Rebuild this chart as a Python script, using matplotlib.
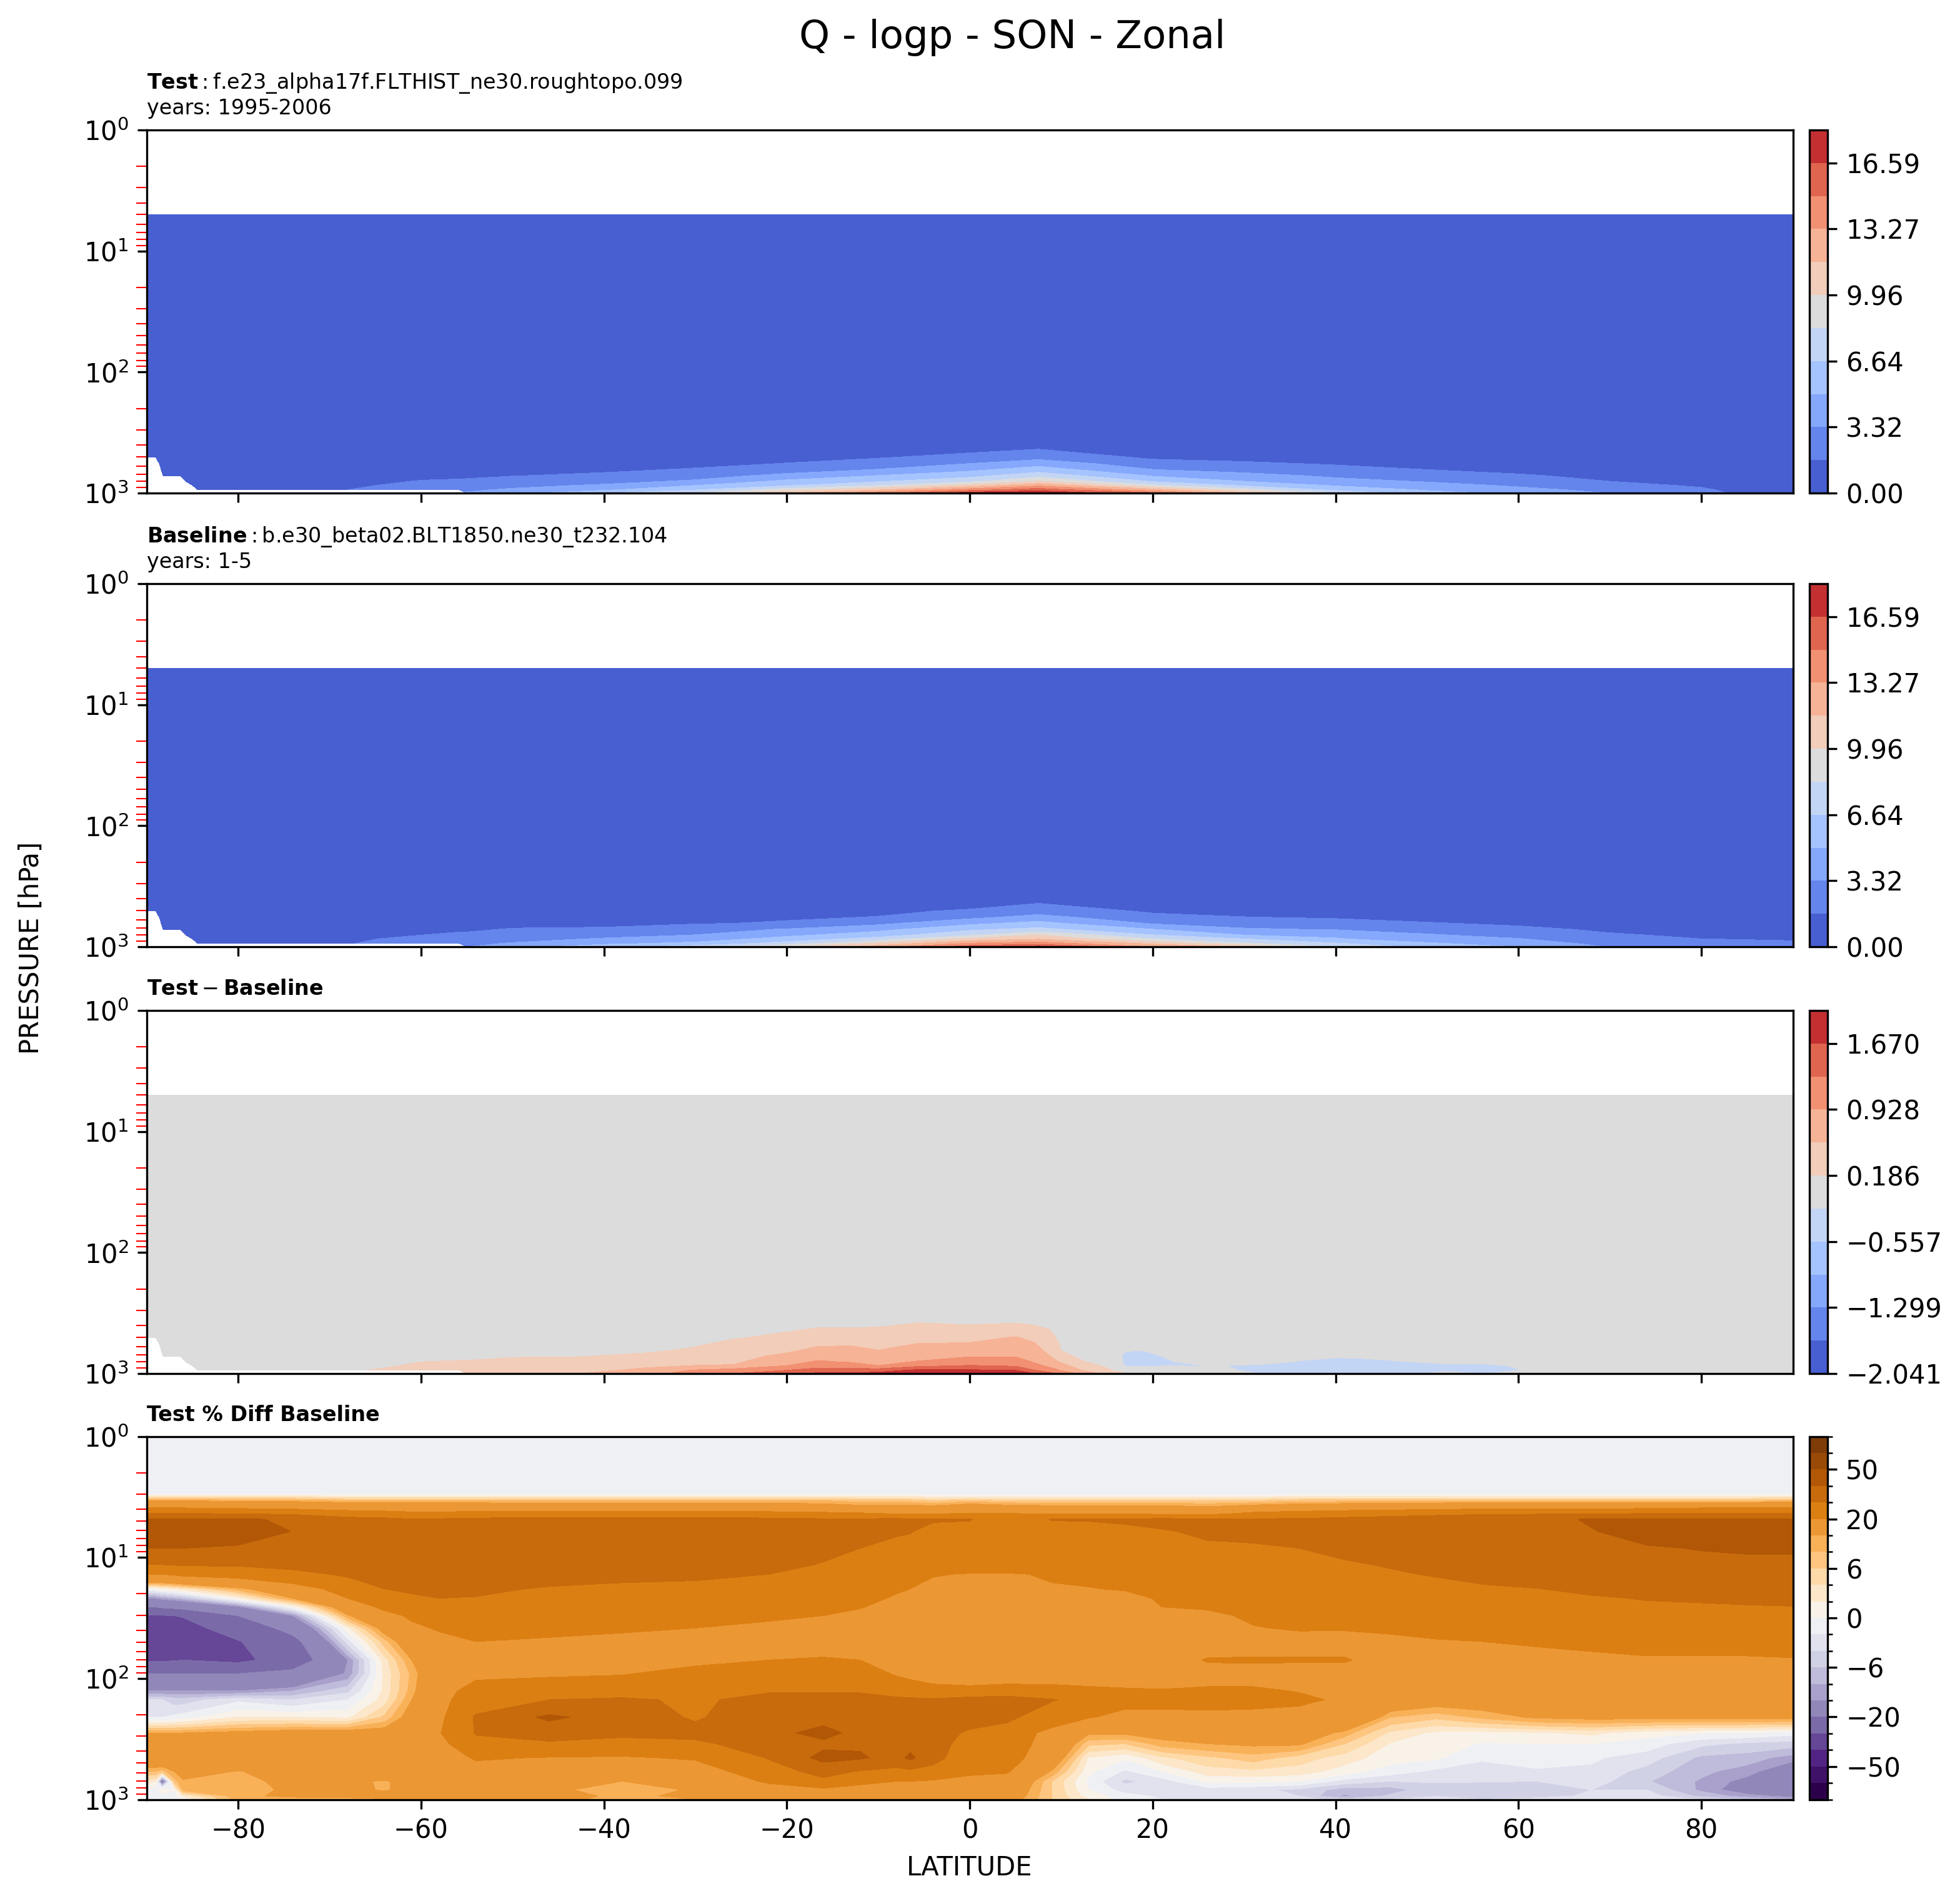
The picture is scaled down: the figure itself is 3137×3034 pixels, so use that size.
import matplotlib
matplotlib.use('Agg')
import matplotlib.pyplot as plt
import numpy as np
from matplotlib.colors import BoundaryNorm

n = np.nan

# pressure levels and latitudes of the hand-read grids
lev_low = [4.98, 300, 380, 430, 507, 570, 640, 717, 800, 860, 939, 1000]
lat_q = [-90, -89, -88.6, -88.4, -88.2, -86.3, -85.7, -85, -84.4, -75, -68, -60, -55.8, -55, -50, -40, -30,
         -20, -10, 0, 7.5, 20, 30, 40, 50, 60, 70, 80, 82.5, 90]

# one list per latitude, top of the atmosphere first
q_polar = [
    [.01, .02, .03, .04, .05, n, n, n, n, n, n, n],
    [.01, .02, .03, .04, .05, n, n, n, n, n, n, n],
    [.01, .02, .03, .04, .05, .06, n, n, n, n, n, n],
    [.01, .02, .03, .04, .05, .06, .07, n, n, n, n, n],
    [.01, .02, .03, .04, .05, .06, .07, .08, n, n, n, n],
    [.01, .02, .03, .04, .05, .06, .07, .08, n, n, n, n],
    [.01, .02, .03, .04, .05, .06, .07, .08, .09, n, n, n],
    [.01, .02, .03, .04, .05, .06, .07, .08, .09, .1, n, n],
    [.01, .02, .03, .04, .05, .06, .07, .08, .09, .1, .11, n],
]
q_test = q_polar + [
    [.01, .05, .15, .2, .3, .4, .5, .7, .9, 1.1, 1.35, n],
    [.01, .1, .2, .3, .4, .55, .7, .9, 1.15, 1.35, 1.66, n],
    [.01, .1, .25, .35, .5, .7, .9, 1.3, 1.75, 2.1, 2.7, n],
    [.01, .1, .3, .4, .6, .8, 1.0, 1.4, 1.85, 2.3, 3.0, n],
    [.01, .1, .3, .4, .6, .8, 1.0, 1.4, 1.9, 2.35, 3.05, 3.5],
    [.01, .15, .35, .45, .65, .85, 1.1, 1.6, 2.3, 2.85, 3.55, 4.4],
    [.01, .2, .45, .55, .8, 1.1, 1.4, 1.95, 2.8, 3.5, 4.7, 6.5],
    [.01, .25, .55, .7, 1.0, 1.3, 1.8, 2.6, 3.6, 4.9, 6.5, 8.4],
    [.01, .35, .75, .9, 1.3, 1.7, 2.5, 3.8, 5.4, 6.3, 9.2, 11.6],
    [.01, .5, .9, 1.1, 1.55, 2.4, 3.4, 5.0, 6.5, 8.0, 11.4, 14.5],
    [.01, .5, 1.0, 1.2, 2.2, 3.32, 4.6, 6.1, 7.9, 10.4, 14.2, 17.6],
    [.01, .7, 1.2, 1.6, 2.8, 4.3, 5.8, 7.7, 10.1, 12.7, 15.9, 18.1],
    [.01, .4, .7, .9, 1.4, 2.3, 3.35, 4.8, 6.5, 8.5, 12.3, 15.4],
    [.01, .3, .55, .7, 1.2, 1.9, 2.7, 3.9, 5.0, 6.2, 9.0, 11.8],
    [.01, .25, .45, .6, 1.0, 1.5, 2.2, 3.0, 3.9, 4.75, 6.2, 8.3],
    [.01, .2, .35, .5, .8, 1.2, 1.66, 2.4, 3.2, 3.9, 4.8, 5.6],
    [.01, .15, .3, .4, .6, .9, 1.2, 1.85, 2.5, 3.05, 3.8, 4.5],
    [.01, .1, .2, .3, .45, .65, .9, 1.2, 1.66, 2.1, 2.85, 3.3],
    [.01, .1, .15, .2, .3, .4, .6, .85, 1.15, 1.45, 1.9, 2.2],
    [.01, .1, .12, .15, .25, .35, .5, .7, .9, 1.15, 1.5, 1.7],
    [.01, .05, .08, .1, .15, .2, .3, .4, .55, .7, 1.0, 1.4],
]
q_base = q_polar + [
    [.01, .05, .15, .2, .3, .4, .5, .7, .9, 1.1, 1.35, n],
    [.01, .1, .2, .3, .4, .55, .7, .9, 1.15, 1.35, 1.55, n],
    [.01, .1, .25, .35, .55, .75, 1.0, 1.3, 1.65, 2.1, 2.7, n],
    [.01, .1, .3, .4, .6, .8, 1.05, 1.45, 1.9, 2.3, 2.95, n],
    [.01, .1, .3, .4, .6, .8, 1.05, 1.45, 1.9, 2.3, 2.95, 3.3],
    [.01, .15, .35, .45, .7, .95, 1.3, 1.75, 2.35, 2.8, 3.45, 4.3],
    [.01, .2, .45, .6, .9, 1.2, 1.5, 1.75, 2.85, 3.45, 4.6, 6.0],
    [.01, .25, .6, .75, 1.1, 1.35, 1.55, 2.55, 3.35, 4.1, 5.4, 7.5],
    [.01, .35, .75, .9, 1.25, 1.5, 1.8, 3.45, 4.6, 5.6, 7.4, 9.9],
    [.01, .45, .85, 1.05, 1.45, 1.7, 2.95, 4.5, 5.9, 7.3, 10.3, 12.6],
    [.01, .5, .95, 1.2, 1.8, 2.9, 4.6, 6.3, 8.0, 10.4, 13.5, 15.9],
    [.01, .7, 1.3, 1.55, 2.6, 3.9, 5.5, 7.1, 10.0, 11.4, 14.2, 17.2],
    [.01, .45, .8, .95, 1.45, 2.1, 3.15, 5.0, 6.7, 8.3, 11.2, 13.3],
    [.01, .4, .7, .85, 1.2, 1.7, 2.65, 3.5, 4.98, 6.64, 8.6, 11.5],
    [.01, .3, .55, .7, 1.05, 1.5, 2.25, 3.2, 4.6, 5.1, 6.8, 8.3],
    [.01, .25, .45, .6, .9, 1.3, 1.75, 2.65, 3.5, 4.1, 5.2, 6.0],
    [.01, .2, .4, .5, .8, 1.1, 1.45, 1.95, 2.75, 3.4, 4.2, 4.95],
    [.01, .15, .3, .4, .6, .85, 1.1, 1.45, 1.8, 2.2, 2.8, 3.25],
    [.01, .1, .2, .3, .45, .6, .85, 1.1, 1.45, 1.66, 2.2, 2.6],
    [.01, .1, .2, .28, .42, .58, .8, 1.05, 1.4, 1.62, 2.1, 2.45],
    [.01, .1, .15, .25, .35, .5, .7, .95, 1.25, 1.5, 1.9, 2.1],
]

lat_d = [-90, -89, -88.6, -88.4, -88.2, -86.3, -85.7, -85, -84.4, -75, -65.2, -60, -55.8, -55, -49.6, -43, -35.6,
         -30.4, -25.8, -20, -16.6, -13, -10, -5.7, 0, 5, 7, 8.7, 10, 12.4, 15.4, 17, 19, 22, 25, 27, 29, 32, 36, 40,
         43, 47, 52, 56, 60, 66, 75, 86, 90]
q_diff = [
    [0, 0, 0, 0, 0, n, n, n, n, n, n, n],
    [0, 0, 0, 0, 0, n, n, n, n, n, n, n],
    [0, 0, 0, 0, 0, 0, n, n, n, n, n, n],
    [0, 0, 0, 0, 0, 0, 0, n, n, n, n, n],
    [0, 0, 0, 0, 0, 0, 0, 0, n, n, n, n],
    [0, 0, 0, 0, 0, 0, 0, 0, n, n, n, n],
    [0, 0, 0, 0, 0, 0, 0, 0, 0, n, n, n],
    [0, 0, 0, 0, 0, 0, 0, 0, 0, 0, n, n],
    [0, 0, 0, 0, 0, 0, 0, 0, 0, 0, 0, n],
    [0, 0, 0, 0, 0, 0, 0, 0, 0, 0, .03, n],
    [0, 0, 0, 0, 0, .02, .03, .05, .08, .12, .2, n],
    [0, 0, 0, 0, .02, .04, .07, .1, .186, .24, .28, n],
    [0, 0, 0, 0, .03, .05, .08, .12, .21, .26, .31, n],
    [0, 0, 0, 0, .03, .05, .08, .12, .21, .26, .31, .36],
    [0, 0, 0, .02, .04, .07, .1, .16, .28, .34, .42, .5],
    [0, 0, 0, .02, .05, .08, .12, .17, .3, .37, .46, .55],
    [0, 0, 0, .03, .06, .09, .13, .25, .42, .5, .62, .72],
    [0, 0, .03, .05, .09, .14, .22, .34, .48, .56, .95, 1.15],
    [0, .02, .06, .09, .17, .26, .33, .42, .5, .58, 1.1, 1.3],
    [0, .03, .1, .16, .25, .35, .48, .65, .8, .93, 1.3, 1.5],
    [0, .04, .14, .2, .35, .5, .65, .8, .97, 1.15, 1.45, 1.75],
    [0, .04, .14, .2, .36, .52, .65, .78, .9, 1.1, 1.45, 1.75],
    [0, .04, .12, .22, .33, .43, .557, .7, .84, .93, 1.5, 1.8],
    [0, .06, .186, .25, .4, .57, .65, .8, .95, 1.2, 1.75, 1.95],
    [0, .05, .15, .27, .43, .6, .74, .9, 1.13, 1.32, 1.72, 1.95],
    [0, .06, .18, .32, .6, .7, .8, .9, 1.13, 1.25, 1.67, 1.9],
    [0, .05, .15, .25, .45, .6, .7, .8, .9, 1.05, 1.32, 1.68],
    [0, .04, .1, .186, .26, .33, .45, .57, .75, .85, 1.1, 1.45],
    [0, .01, .03, .05, .12, .16, .18, .25, .5, .7, .9, 1.1],
    [0, 0, 0, .01, .02, .05, .08, .13, .2, .3, .53, .85],
    [0, 0, 0, 0, 0, 0, .02, .03, .07, .12, .2, .4],
    [0, 0, 0, 0, 0, -.06, -.17, -.25, -.24, -.2, -.05, .25],
    [0, 0, 0, 0, 0, -.08, -.18, -.25, -.27, -.21, -.1, .15],
    [0, 0, 0, 0, 0, -.02, -.08, -.15, -.2, -.19, -.05, .1],
    [0, 0, 0, 0, 0, 0, 0, -.03, -.1, -.2, -.1, 0],
    [0, 0, 0, 0, 0, 0, 0, -.02, -.08, -.17, -.1, 0],
    [0, 0, 0, 0, 0, 0, 0, -.02, -.08, -.2, -.18, -.05],
    [0, 0, 0, 0, 0, 0, 0, -.05, -.12, -.22, -.25, -.21],
    [0, 0, 0, 0, 0, 0, -.02, -.13, -.2, -.27, -.3, -.3],
    [0, 0, 0, 0, 0, 0, -.06, -.16, -.25, -.33, -.5, -.58],
    [0, 0, 0, 0, 0, 0, -.05, -.15, -.24, -.33, -.5, -.58],
    [0, 0, 0, 0, 0, 0, -.02, -.1, -.2, -.28, -.35, -.3],
    [0, 0, 0, 0, 0, 0, 0, -.06, -.15, -.22, -.23, -.1],
    [0, 0, 0, 0, 0, 0, 0, -.07, -.15, -.22, -.25, -.2],
    [0, 0, 0, 0, 0, 0, 0, 0, -.05, -.17, -.19, -.1],
    [0, 0, 0, 0, 0, 0, 0, 0, 0, -.02, -.1, -.22],
    [0, 0, 0, 0, 0, 0, 0, 0, 0, 0, 0, 0],
    [0, 0, 0, 0, 0, 0, 0, 0, -.08, -.19, -.08, 0],
    [0, 0, 0, 0, 0, 0, 0, 0, 0, 0, 0, 0],
]

lev_pct = [1, 2.99, 3.17, 3.4, 3.9, 4.33, 4.84, 6.1, 8.4, 11.5, 13.8, 16.2, 18.2, 21.8, 25.7, 30.3, 38.4, 49.6,
           70.5, 91.5, 127, 150, 209, 282, 347, 453, 586, 708, 832, 938, 1000]
lat_pct = [-90, -89, -88.3, -87, -86, -80, -74, -68, -64, -61, -58, -54, -46, -38, -30, -22, -16, -12, -8, -6.5, -4,
           0, 4, 9, 13, 17, 21, 26, 31, 36, 41, 46, 51, 56, 62, 68, 74, 80, 85, 90]
q_pct = [
    [-1, -1, 4, 10, 20, 30, 41, 45, 40, 30, 20, 10, 0, -10, -20, -31, -35, -36, -31, -20, -10, -4, -2, 10, 14, 14, 8, 3, -1, -1, -1],
    [-1, -1, 4, 10, 20, 30, 41, 45, 40, 30, 20, 10, 0, -10, -20, -31, -35, -36, -31, -20, -10, -4, -2, 10, 14, 14.5, 8, 2, -1, -1, -1],
    [-1, -1, 4, 10, 20, 30, 41, 45, 40, 30, 20, 10, 1, -9, -19, -30.5, -34, -36, -31, -20, -10, -4, -2, 10, 14, 15, 7, -15, 2, -1, -1],
    [-1, -1, 4, 10, 20, 30, 41, 45, 40, 30.5, 21, 11, 2, -8, -18, -30, -34, -35.5, -30.5, -20, -10, -5, -1.5, 10, 14, 15, 10, 7, 0, -1, -1],
    [-1, -1, 4, 10, 20, 30, 41, 45, 40, 31, 22, 12, 3, -7, -17, -29.5, -33, -35, -30, -20, -10, -5, -1, 10, 14, 15, 12, 9.5, 9, 2, 0],
    [-1, -1, 4, 9, 19, 29.5, 41, 44, 39, 31, 24, 15, 9, 1, -11, -20, -26, -30.5, -32, -20, -10, -2.5, 2, 11, 14, 15, 9.8, 9, 9, 9.5, 9],
    [-1, -1, 4, 9, 18, 28, 39, 39.8, 37.5, 32, 28, 21, 14, 10, 0, -10, -17, -23, -26, -17, -8, -4, 2, 12, 15, 15, 12, 11, 10.5, 10.5, 9],
    [-1, -1, 3, 8, 16, 25, 33, 36, 36, 33, 31, 28, 25, 20, 14, 9.5, 1.5, -3, -10, -9.5, -4.5, -2, 1.5, 12, 15, 15, 15, 11, 11.5, 11, 9],
    [-1, -1, 3, 8, 15, 24, 32, 35, 36, 35, 34, 32, 30, 26, 22, 17, 12, 7, 3, 2.5, 2.5, 3, 6.5, 12, 15, 15, 15, 9.5, 9.5, 12, 9.5],
    [-1, -1, 3, 8, 15, 22, 30.5, 33, 35, 34, 33, 32, 31, 29, 26, 21.5, 18, 14, 10, 8.5, 9, 10, 12, 15, 16, 16, 16, 12, 12, 13, 9.5],
    [-1, -1, 3, 8, 15, 22, 31, 33, 35, 35, 34, 33, 32, 30, 27, 25, 21, 17, 15, 15, 16, 17, 18, 19.5, 17, 15, 15, 15, 14, 13, 9.8],
    [-1, -1, 3, 8, 15, 23, 32, 33, 35, 36, 35, 33, 32, 29.5, 28, 26, 23, 20, 17, 18, 24, 26, 31, 30.5, 28, 21, 16, 15, 14, 14, 9.9],
    [-1, -1, 3, 8, 14, 23, 33, 34, 35, 36, 34, 31.5, 29, 27, 26, 24, 22, 19, 16, 18.5, 27, 30, 42, 33, 29, 19.5, 15, 14, 11, 12, 10.5],
    [-1, -1, 3, 8, 14, 24, 33, 35, 36, 37, 33, 30, 28.5, 27, 26, 24, 21, 18, 15.5, 19.5, 27, 31, 35, 32, 27, 19, 14, 10, 8, 9, 9.5],
    [-1, -1, 3, 8, 14, 24, 33, 35, 36, 36, 33, 29, 28, 26.5, 25, 23, 20, 17, 18, 23, 29, 29, 29, 33, 28, 21, 15, 14, 10.5, 11, 10],
    [-1, -1, 3, 8, 14, 23, 32, 34, 35, 35, 30, 28, 27, 25, 23.5, 21.5, 18, 15, 20, 25, 29.5, 32, 36, 37, 35, 30.5, 26, 21, 17, 14, 11],
    [-1, -1, 3, 8, 13, 22, 31, 33, 34, 29, 27.5, 26.5, 26, 24, 22, 20, 16, 13.5, 21.5, 25, 29.5, 32, 37, 43, 38, 43, 33, 28, 18, 14, 12],
    [-1, -1, 3, 7, 12, 21, 31, 33, 30, 27.5, 26, 25, 24, 22.5, 20.5, 18, 15, 13, 20, 25, 29.5, 32, 36, 37, 39, 41, 29.5, 22, 17, 14, 12],
    [-1, -1, 3, 7, 12, 19, 32, 31, 27.5, 25, 24, 22, 21, 19, 17, 15.5, 14, 13, 18.5, 19, 28, 31, 35, 35, 37, 37, 27, 20, 16, 14, 12],
    [-1, -1, 3, 7, 12, 19, 31, 30.5, 26.5, 24.5, 23, 21, 20, 18, 16, 15, 14, 13, 17, 17, 27, 31, 35, 36, 37, 42, 28, 20, 16, 14, 12],
    [-1, -1, 2, 6, 12, 19, 31, 27, 24, 22, 20.5, 19, 18, 16, 14.5, 13.5, 12.5, 12, 15, 15, 24, 31, 35, 36, 34, 33, 27, 19, 15, 14, 12],
    [-1, -1, 2, 7, 14, 20.5, 30.5, 27, 26, 24, 19.5, 16, 15, 14.5, 14, 13.5, 13, 12.5, 12, 12.5, 24, 33, 36, 28, 26, 24, 22, 17, 15, 14, 13],
    [-1, -1, 2, 6, 13, 20, 24, 26, 25, 23, 19.5, 16, 15, 14, 13.5, 13, 13, 12.5, 12, 12.5, 26, 33, 32, 26, 25, 24, 21, 16, 14, 13, 12],
    [-1, -1, 2, 6, 12, 19, 30.5, 26, 24, 22, 20.5, 20, 18, 14.5, 13.5, 13, 12.5, 12, 12, 13, 25, 30.5, 25, 17, 16, 14, 9.5, 6, 6, 6, 6],
    [-1, -1, 2, 6, 12, 18.5, 30.5, 27.5, 25, 23.5, 22, 21, 19.5, 14.5, 13.5, 13, 12.5, 12, 12, 13, 23, 27, 20.5, 10.5, 6.5, 1.8, 0.5, -0.5, 0, 1, 2],
    [-1, -1, 2, 6, 12, 19, 31, 28.5, 26, 24.5, 23.5, 22, 21, 16, 14, 13, 12.5, 12, 12, 14, 21.5, 22, 18, 10.5, 6, 0.3, -2.3, -4.5, -3, -1, -1],
    [-1, -1, 2, 6, 12, 18, 32, 29.5, 27, 26, 25, 24, 23, 21.5, 20, 16, 14, 13, 13, 13, 21, 23, 17, 11.5, 9, 3.5, 0, -3, -3, -2.5, -2],
    [-1, -1, 2, 6, 11, 17, 31, 31, 29, 27, 26, 24.5, 23.5, 22, 21, 18, 15, 14, 21, 15, 22, 24, 17, 11.5, 10, 5.5, 3, 0.4, -3, -3, -2],
    [-1, -1, 2, 6, 13, 22, 31, 33, 28.5, 27, 26, 25, 24, 23, 22, 21.5, 19.5, 14, 21.5, 15, 22, 24, 16, 11.5, 10.5, 7, 3.5, 0.5, -3.5, -3, -2.5],
    [-1, -1, 3, 7, 14, 24, 31, 34, 30, 27, 26, 25, 24.5, 24, 23, 22.5, 21, 16, 21, 15, 19.5, 22.5, 15, 13, 10.5, 5, 3, 0, -4.5, -4, -3],
    [-1, -1, 3, 7, 15, 26, 32, 36, 33, 28.5, 27, 26, 25, 24, 23.5, 22.5, 21, 15.5, 21, 15, 18, 18, 17, 9, 6, 3, 1, -2.8, -7, -8.5, -5],
    [-1, -1, 3, 7, 16, 27, 33, 36, 34, 31, 28.5, 27, 26, 25, 24, 23, 21.5, 18, 15, 14, 14, 13.5, 8, 3.5, 1.8, 0.8, -1, -4, -7, -5.5, -4],
    [-1, -1, 3, 7, 17, 28, 34, 36, 35, 33, 31, 28, 27, 26, 25, 23.5, 22, 19.5, 15, 14, 13, 12, 6.5, 1.5, 1, 0.3, -2.5, -3.9, -4.5, -4.1, -3],
    [-1, -1, 3, 7, 18, 29, 35, 38, 37, 35, 33, 30.5, 28.5, 27, 26, 24.5, 22.5, 20, 16, 14.5, 13, 12, 8.5, 1.3, -0.2, -1.7, -3, -3.9, -5, -5, -4],
    [-1, -1, 3, 7, 18, 29, 37, 38, 38, 36, 34, 32, 29.8, 28, 26.5, 25, 23.5, 21, 17, 15.5, 14, 13, 10.5, 1.7, 0, -1, -2.3, -4, -5, -5, -3],
    [-1, -1, 3, 7, 18, 29, 41, 39.5, 38, 37, 35, 34, 32, 29, 27.5, 26, 24, 22, 18, 15.5, 14, 13, 11, 2.5, 0, -1.7, -2.4, -3, -4, -3.5, -3],
    [-1, -1, 3, 7, 19, 30, 41, 44, 39, 37, 36, 35, 34, 30.5, 28.5, 27, 25, 23, 19, 16, 15, 14, 11, 0.8, -1, -3, -4.8, -5.8, -4, -3, -2.5],
    [-1, -1, 3, 7, 20, 30, 41, 45, 40.5, 37, 36, 35, 34, 31, 29, 27.5, 25, 23, 19, 16, 15, 14, 11, 0, -3.5, -6.5, -7.5, -8.3, -8.5, -6.5, -4],
    [-1, -1, 3, 7, 20, 30, 41, 46, 41, 38, 36, 35, 34, 31.5, 29.5, 28, 25, 23, 19, 16, 15, 14, 11, -0.2, -4.5, -7, -9, -11, -12, -9, -6],
    [-1, -1, 3, 8, 20, 30, 41, 46, 41, 38, 37, 36, 35, 32, 29.8, 28, 25.5, 23, 19.5, 16.5, 15, 14, 11, -1.2, -5, -9, -13, -14, -14, -11, -8],
]

# contour levels
levels_q = np.linspace(0, 18.252, 12)
levels_diff = np.linspace(-2.041, 2.041, 12)
levels_pct = [-100, -75, -50, -40, -30, -20, -10, -8, -6, -4, -2, 0, 2, 4, 6, 8, 10, 20, 30, 40, 50, 75, 100]

titles = [r'$\mathbf{Test}:$f.e23_alpha17f.FLTHIST_ne30.roughtopo.099' + '\nyears: 1995-2006',
          r'$\mathbf{Baseline}:$b.e30_beta02.BLT1850.ne30_t232.104' + '\nyears: 1-5',
          r'$\mathbf{Test} - \mathbf{Baseline}$',
          'Test % Diff Baseline']
panel_tops = [208, 934, 1617, 2298.5]
panel_height = 581

W, H = 3137, 3034
fig = plt.figure(figsize=(W / 300, H / 300), dpi=300)


def make_axes(x0, x1, top):
    return fig.add_axes([x0 / W, 1 - (top + panel_height) / H, (x1 - x0) / W, panel_height / H])


fields = [(lat_q, lev_low, q_test, levels_q, 'coolwarm', None),
          (lat_q, lev_low, q_base, levels_q, 'coolwarm', None),
          (lat_d, lev_low, q_diff, levels_diff, 'coolwarm', None),
          (lat_pct, lev_pct, q_pct, levels_pct, 'PuOr_r', BoundaryNorm(levels_pct, 256))]

for i, (lat, lev, q, levels, cmap, norm) in enumerate(fields):
    ax = make_axes(234.7, 2869.5, panel_tops[i])
    cax = make_axes(2896, 2925, panel_tops[i])
    z = np.array(q, dtype=float).T
    cf = ax.contourf(lat, lev, z, levels=levels, cmap=cmap, norm=norm)
    ax.set_yscale('log')
    ax.set_ylim(1000, 1)
    ax.set_xlim(-90, 90)
    ax.set_xticks(np.arange(-80, 81, 20))
    ax.tick_params(axis='y', which='minor', color='red', length=4, width=0.5)
    ax.set_title(titles[i], loc='left', fontsize=8, fontweight='bold' if i == 3 else 'normal')
    if i < 3:
        ax.set_xticklabels([])
    cb = fig.colorbar(cf, cax=cax)
    if i < 3:
        cb.minorticks_off()
    if i == 3:
        ax.set_xlabel('LATITUDE', fontsize=10)

fig.suptitle('Q - logp - SON - Zonal', fontsize=15, x=1620 / W, y=1 - 60 / H, va='center')
fig.text(50 / W, 1 - 1517 / H, 'PRESSURE [hPa]', rotation=90, va='center', ha='center', fontsize=10)

fig.savefig('out.png', dpi=300)
